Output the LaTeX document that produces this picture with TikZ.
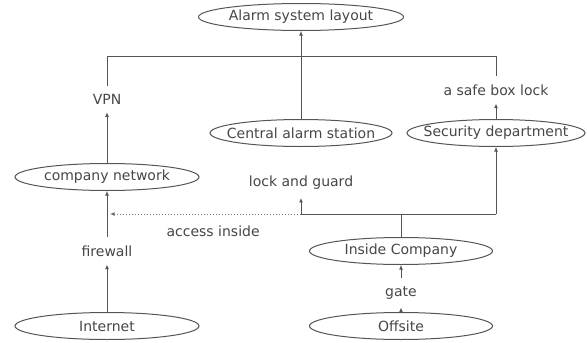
\documentclass[tikz,border=0pt]{standalone}
\usepackage{fontspec}
\setmainfont{DejaVu Sans}
\usepackage{tikz}
\usetikzlibrary{arrows.meta,positioning,shapes.geometric}
\definecolor{linegray}{RGB}{85,85,85}
\definecolor{textgray}{RGB}{70,70,70}
\definecolor{dotgray}{RGB}{110,110,110}
\newcommand{\ovaltext}[1]{\makebox[0pt]{#1}}

\begin{document}
\begin{tikzpicture}[
  x=1pt,y=-1pt,
  font=\fontsize{14}{16}\selectfont,
  oval/.style={ellipse,draw=linegray,line width=1pt,inner sep=0pt,minimum width=#1,minimum height=27pt,text=textgray},
  lbl/.style={text=textgray,inner xsep=2pt,inner ysep=8pt},
  link/.style={draw=linegray,line width=1pt},
  arr/.style={link,-{Latex[length=4.5pt,width=4pt]}},
  dots/.style={arr,draw=dotgray,dotted}
]
\useasboundingbox (0,0) rectangle (587,343);
\node[oval=205] (alarm) at (301,17) {\ovaltext{Alarm system layout}};
\node[oval=182] (central) at (301,133) {\ovaltext{Central alarm station}};
\node[oval=178] (sec) at (496,133) {\ovaltext{Security department}};
\node[oval=184] (net) at (107,177) {\ovaltext{company network}};
\node[oval=184] (inet) at (107,326) {\ovaltext{Internet}};
\node[oval=183] (inside) at (401,251) {\ovaltext{Inside Company}};
\node[oval=183] (off) at (401,326) {\ovaltext{Offsite}};
\node[lbl] (vpn) at (107,99) {VPN};
\node[lbl] (safe) at (496,90) {a safe box lock};
\node[lbl] (lock) at (301,183) {lock and guard};
\node[lbl] (fw) at (107,251) {firewall};
\node[lbl] (gate) at (401,293) {gate};
\coordinate (busL) at (107,56);
\coordinate (busR) at (496,56);
\coordinate (jL) at (301,214);
\coordinate (jM) at (401,214);
\coordinate (jR) at (496,214);
\coordinate (tap) at (110,214);
% top
\draw[link] (vpn) -- (busL) -- (busR) -- (safe);
\draw[arr] (central) -- (alarm);
\draw[arr] (net) -- (vpn);
\draw[arr] (sec) -- (safe);
% left
\draw[arr] (inet) -- (fw);
\draw[arr] (fw) -- (net);
% right
\draw[arr] (off) -- (gate);
\draw[arr] (gate) -- (inside);
\draw[link] (inside) -- (jM);
\draw[link] (jL) -- (jR);
\draw[arr] (jL) -- (lock);
\draw[arr] (jR) -- (sec);
\draw[dots] (jL) -- node[pos=0.46,yshift=-17pt,text=textgray] (acc) {access inside} (tap);
\end{tikzpicture}
\end{document}
